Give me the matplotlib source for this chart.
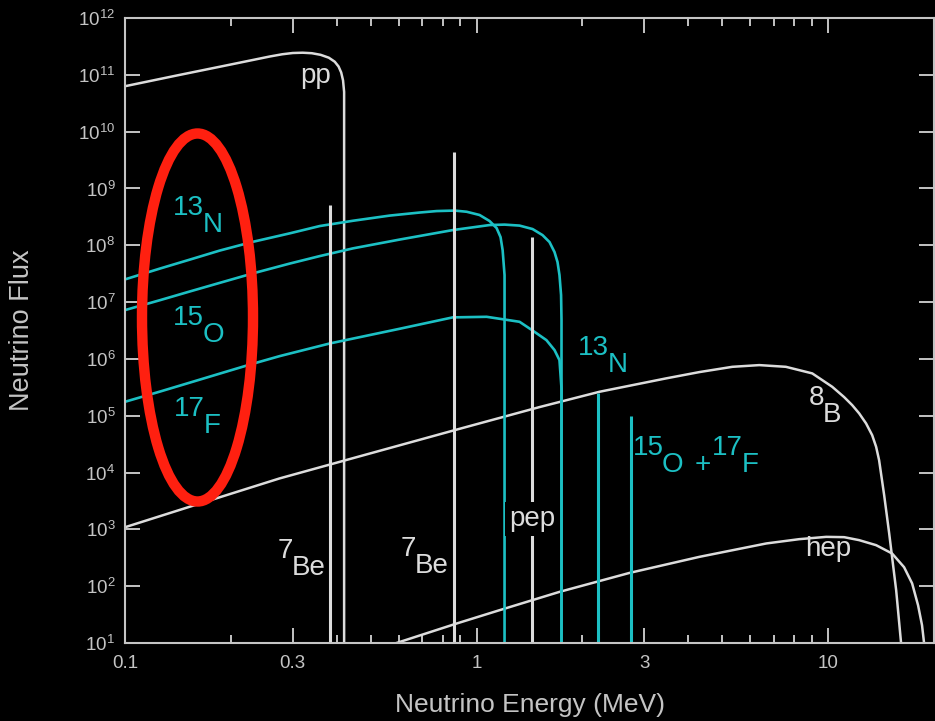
import matplotlib
matplotlib.use('Agg')
import matplotlib.pyplot as plt
from matplotlib.patches import Ellipse
from matplotlib.ticker import FixedLocator, LogLocator, NullLocator, NullFormatter

plt.rcParams['font.family'] = ['Liberation Sans', 'DejaVu Sans']
plt.rcParams['mathtext.fontset'] = 'custom'
plt.rcParams['mathtext.rm'] = 'Liberation Sans'

# ── Spectra (energy in MeV, flux) ────────────────────────────────
pp_E = [0.1, 0.14, 0.2, 0.258, 0.28, 0.30, 0.32, 0.34, 0.36, 0.38, 0.395, 0.405,
        0.412, 0.417, 0.42, 0.42]
pp_F = [6.3e10, 9.7e10, 1.52e11, 2.1e11, 2.3e11, 2.42e11, 2.45e11, 2.4e11, 2.25e11,
        2.0e11, 1.7e11, 1.4e11, 1.1e11, 8e10, 5e10, 10]

b8_E = [0.1, 0.163, 0.275, 0.465, 0.866, 1.51, 2.236, 3.458, 4.30, 5.34, 6.37,
        7.58, 9.01, 10.27, 11.10, 11.70, 12.25, 12.82, 13.34, 13.69, 13.96, 14.43,
        14.91, 15.61, 16.12]
b8_F = [1.09e3, 2.84e3, 7.87e3, 1.93e4, 5.57e4, 1.42e5, 2.64e5, 4.54e5,
        5.86e5, 7.26e5, 7.78e5, 7.26e5, 5.56e5, 3.23e5, 2.13e5, 1.54e5, 1.10e5,
        7.31e4, 4.55e4, 2.84e4, 1.65e4, 4.0e3, 857, 85, 10]

hep_E = [0.592, 0.877, 1.162, 1.721, 2.72, 4.30, 5.41, 6.67, 8.27, 9.87, 11.10,
         12.25, 13.69, 15.20, 16.44, 17.33, 18.02, 18.49, 18.74]
hep_F = [10, 22, 37.8, 79.4, 171, 328, 436, 565, 672, 738, 729, 646, 527, 376, 216,
         112, 46, 20.6, 10]

n13_E = [0.1, 0.1257, 0.153, 0.186, 0.231, 0.294, 0.358, 0.445, 0.566, 0.689, 0.770,
         0.866, 0.937, 1.020, 1.089, 1.140, 1.170, 1.186, 1.201, 1.201]
n13_F = [2.51e7, 3.89e7, 5.60e7, 8.07e7, 1.15e8, 1.62e8, 2.18e8, 2.70e8, 3.33e8,
         3.77e8, 4.00e8, 4.08e8, 3.89e8, 3.41e8, 2.67e8, 2.01e8, 1.39e8, 8.2e7,
         2.99e7, 10]

o15_E = [0.1, 0.1257, 0.153, 0.186, 0.231, 0.294, 0.358, 0.445, 0.604, 0.855, 1.089,
         1.201, 1.325, 1.443, 1.540, 1.612, 1.666, 1.699, 1.721, 1.739, 1.744, 1.744]
o15_F = [7.23e6, 1.08e7, 1.54e7, 2.18e7, 3.20e7, 4.76e7, 6.45e7, 8.82e7, 1.26e8,
         1.85e8, 2.27e8, 2.31e8, 2.22e8, 1.93e8, 1.51e8, 1.14e8, 7.59e7, 5.06e7,
         2.99e7, 1.33e7, 4.82e6, 10]

f17_E = [0.1, 0.1257, 0.153, 0.186, 0.2265, 0.2754, 0.3823, 0.604, 0.855, 1.068,
         1.325, 1.452, 1.580, 1.666, 1.721, 1.744, 1.744]
f17_F = [1.76e5, 2.66e5, 3.83e5, 5.51e5, 7.94e5, 1.12e6, 1.87e6, 3.39e6, 5.38e6,
         5.51e6, 4.50e6, 3.08e6, 2.14e6, 1.43e6, 9.52e5, 3.0e5, 10]

# line sources: 7Be (x2), pep  /  ecCNO 13N, 15O
line_E   = [0.384, 0.862, 1.442]
line_top = [5.1e8, 4.3e9, 1.4e8]
cno_line_E   = [2.22, 2.75]
cno_line_top = [2.5e5, 1.0e5]

x_major  = [0.1, 0.3, 1, 3, 10]
x_labels = ['0.1', '0.3', '1', '3', '10']
x_minor  = [0.2, 0.4, 0.5, 0.6, 0.7, 0.8, 0.9, 2, 4, 5, 6, 7, 8, 9]

WHITE = '#dcdcdc'
CYAN  = '#1cc0c4'
AXIS  = '#c4c4c4'

fig = plt.figure(figsize=(9.35, 7.21), dpi=100, facecolor='black')
ax = fig.add_axes([125/935, 1 - 643/721, 809/935, 625/721])
ax.set_facecolor('black')
ax.set_xscale('log')
ax.set_yscale('log')
ax.set_xlim(0.1, 20)
ax.set_ylim(10, 1e12)

for E, F in [(pp_E, pp_F), (b8_E, b8_F), (hep_E, hep_F)]:
    ax.plot(E, F, color=WHITE, lw=1.8, solid_joinstyle='round')
for E, F in [(n13_E, n13_F), (o15_E, o15_F), (f17_E, f17_F)]:
    ax.plot(E, F, color=CYAN, lw=1.9, solid_joinstyle='round')
ax.vlines(line_E, 10, line_top, color=WHITE, lw=2.2)
ax.vlines(cno_line_E, 10, cno_line_top, color=CYAN, lw=2.2)

# ── axes styling ──
for s in ax.spines.values():
    s.set_color(AXIS)
    s.set_linewidth(1.5)
ax.xaxis.set_major_locator(FixedLocator(x_major))
ax.xaxis.set_minor_locator(FixedLocator(x_minor))
ax.xaxis.set_minor_formatter(NullFormatter())
ax.set_xticklabels(x_labels)
ax.yaxis.set_major_locator(LogLocator(base=10, numticks=20))
ax.yaxis.set_minor_locator(NullLocator())
ax.tick_params(which='both', direction='in', top=True, right=True,
               color=AXIS, labelcolor=AXIS, width=1.4)
ax.tick_params(which='major', length=10.8, labelsize=13.5)
ax.tick_params(which='minor', length=5.8)
ax.tick_params(axis='x', pad=9)
ax.tick_params(axis='y', pad=7)

fig.text(530/935, 1 - 705/721, 'Neutrino Energy (MeV)', color=AXIS,
         fontsize=19, ha='center', va='center')
fig.text(22/935, 1 - 330/721, 'Neutrino Flux', color=AXIS,
         fontsize=19.5, ha='center', va='center', rotation=90)

# ── source labels ──
def iso(E, F, mass, sym, color):
    ax.text(E, F, sym, color=color, fontsize=20, ha='left', va='baseline')
    ax.annotate(mass, (E, F), xytext=(1, 12.5), textcoords='offset points',
                color=color, fontsize=20, ha='right', va='baseline')

iso(0.1666, 1.71e8, '13', 'N', CYAN)
iso(0.1666, 1.98e6, '15', 'O', CYAN)
iso(0.167, 4.94e4, '17', 'F', CYAN)
iso(2.36, 5.86e5, '13', 'N', CYAN)
iso(3.37, 1.02e4, '15', 'O', CYAN)
ax.text(4.39, 1.02e4, '+', color=CYAN, fontsize=20, ha='center', va='baseline')
iso(5.66, 1.02e4, '17', 'F', CYAN)
iso(9.68, 7.7e4, '8', 'B', WHITE)
iso(0.298, 156, '7', 'Be', WHITE)
iso(0.667, 170, '7', 'Be', WHITE)
ax.text(0.316, 7.2e10, 'pp', color=WHITE, fontsize=20, ha='left', va='baseline')
ax.text(8.61, 337, 'hep', color=WHITE, fontsize=20, ha='left', va='baseline')
ax.text(1.442, 1.14e3, 'pep', color=WHITE, fontsize=20, ha='center', va='baseline',
        bbox=dict(fc='black', ec='none', pad=3))

# red highlight round the CNO labels
fig.add_artist(Ellipse((197.5/935, 1 - 317.5/721), 111/935, 368/721,
                       transform=fig.transFigure, fill=False,
                       ec='#ff2010', lw=7.5))

fig.savefig('out.png', dpi=100, facecolor='black')
